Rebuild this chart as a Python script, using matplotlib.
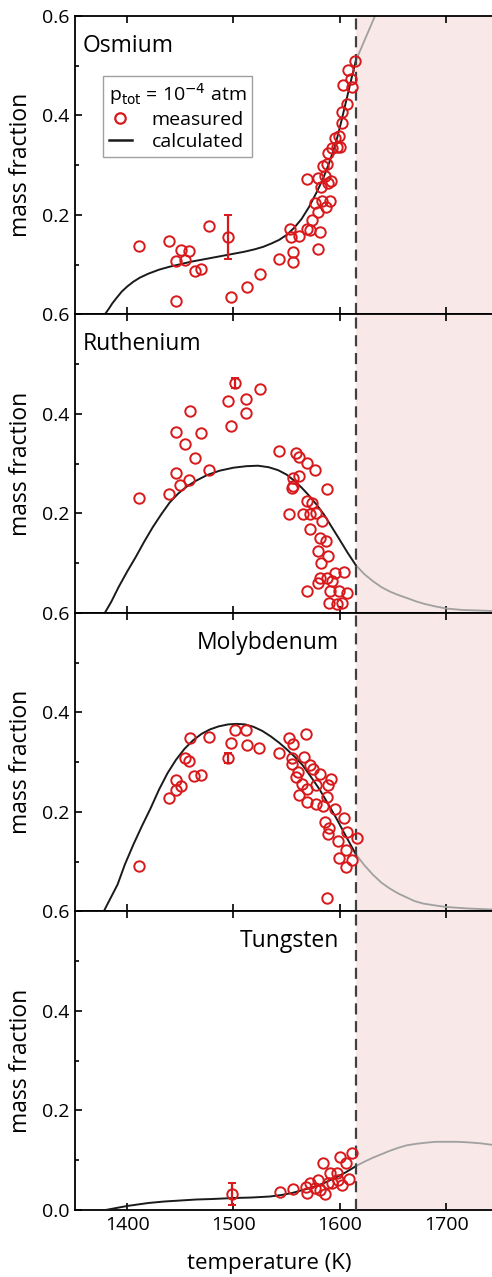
import matplotlib
matplotlib.use("Agg")
import matplotlib.pyplot as plt
from matplotlib.lines import Line2D
from matplotlib.ticker import MultipleLocator

plt.rcParams['font.family'] = ['Open Sans', 'DejaVu Sans']

# ---- data ----
t_melt = 1615

os_T = [1411, 1439, 1451, 1458, 1446, 1454, 1464, 1469, 1477, 1446, 1498, 1513, 1525,
        1543, 1556, 1556, 1579, 1553, 1554, 1562, 1569, 1572, 1581, 1574, 1579, 1587,
        1591, 1577, 1583, 1569, 1579, 1589, 1592, 1582, 1586, 1584, 1588, 1589, 1593,
        1597, 1600, 1595, 1599, 1602, 1602, 1607, 1603, 1611, 1608, 1610, 1614]
os_w = [0.137, 0.147, 0.129, 0.127, 0.107, 0.110, 0.088, 0.092, 0.177, 0.028, 0.036, 0.056, 0.082,
        0.112, 0.105, 0.125, 0.131, 0.171, 0.155, 0.157, 0.172, 0.169, 0.165, 0.189, 0.205, 0.217,
        0.229, 0.225, 0.229, 0.273, 0.275, 0.265, 0.269, 0.257, 0.279, 0.298, 0.303, 0.324, 0.334,
        0.336, 0.336, 0.354, 0.358, 0.384, 0.406, 0.424, 0.462, 0.458, 0.492, 0.474, 0.509]
os_err = (1495, 0.155, 0.044)
os_calc_T = [1379, 1383, 1386, 1390, 1395, 1400, 1406, 1412, 1420, 1430, 1440, 1450, 1460,
             1470, 1480, 1490, 1500, 1510, 1520, 1528, 1536, 1543, 1550, 1557, 1564, 1571,
             1578, 1584, 1590, 1596, 1601, 1606, 1611, 1615]
os_calc_w = [0.0, 0.012, 0.022, 0.033, 0.046, 0.056, 0.066, 0.074, 0.082, 0.090, 0.096, 0.101, 0.106,
             0.110, 0.114, 0.118, 0.122, 0.126, 0.131, 0.136, 0.143, 0.150, 0.160, 0.174, 0.192, 0.216,
             0.245, 0.272, 0.305, 0.343, 0.385, 0.430, 0.475, 0.510]
os_ext_T = [1615, 1620, 1625, 1630, 1635, 1645]
os_ext_w = [0.510, 0.535, 0.560, 0.585, 0.610, 0.670]

ru_T = [1411, 1439, 1450, 1458, 1446, 1477, 1464, 1454, 1446, 1469, 1459, 1495, 1498,
        1512, 1512, 1525, 1543, 1559, 1562, 1569, 1577, 1556, 1562, 1555, 1556, 1588,
        1552, 1565, 1572, 1569, 1574, 1578, 1583, 1572, 1581, 1587, 1579, 1589, 1582,
        1581, 1588, 1595, 1604, 1593, 1569, 1591, 1599, 1607, 1590, 1597, 1602, 1579]
ru_w = [0.231, 0.239, 0.257, 0.267, 0.281, 0.287, 0.312, 0.340, 0.364, 0.362, 0.406, 0.426, 0.376,
        0.430, 0.402, 0.450, 0.326, 0.322, 0.314, 0.302, 0.287, 0.271, 0.275, 0.251, 0.255, 0.249,
        0.199, 0.199, 0.199, 0.225, 0.221, 0.201, 0.185, 0.169, 0.151, 0.145, 0.125, 0.115, 0.101,
        0.070, 0.070, 0.080, 0.082, 0.064, 0.044, 0.044, 0.044, 0.040, 0.020, 0.018, 0.020, 0.060]
ru_err = (1501, 0.462, 0.010)
ru_calc_T = [1379, 1385, 1392, 1400, 1408, 1416, 1424, 1432, 1440, 1448, 1456, 1465, 1475,
             1487, 1500, 1512, 1523, 1533, 1542, 1550, 1557, 1564, 1571, 1578, 1585, 1592,
             1599, 1607, 1615]
ru_calc_w = [0.0, 0.022, 0.052, 0.083, 0.112, 0.143, 0.172, 0.198, 0.222, 0.240, 0.254, 0.266, 0.277,
             0.286, 0.292, 0.295, 0.296, 0.293, 0.287, 0.278, 0.266, 0.252, 0.236, 0.218, 0.198, 0.174,
             0.150, 0.122, 0.096]
ru_ext_T = [1615, 1623, 1631, 1639, 1647, 1655, 1663, 1672, 1680, 1690, 1700, 1715, 1730, 1743]
ru_ext_w = [0.096, 0.078, 0.064, 0.052, 0.043, 0.036, 0.030, 0.023, 0.018, 0.013, 0.009, 0.006,
            0.005, 0.004]

mo_T = [1411, 1439, 1446, 1446, 1451, 1463, 1469, 1454, 1458, 1459, 1477, 1498, 1501,
        1512, 1513, 1524, 1543, 1552, 1568, 1556, 1555, 1555, 1566, 1561, 1559, 1572,
        1575, 1581, 1592, 1564, 1569, 1578, 1589, 1562, 1569, 1578, 1588, 1584, 1595,
        1586, 1604, 1589, 1607, 1616, 1598, 1606, 1599, 1611, 1606, 1588, 1590]
mo_w = [0.092, 0.229, 0.245, 0.265, 0.253, 0.273, 0.275, 0.308, 0.302, 0.348, 0.350, 0.338, 0.364,
        0.364, 0.334, 0.328, 0.318, 0.348, 0.356, 0.336, 0.308, 0.296, 0.310, 0.281, 0.271, 0.295,
        0.287, 0.277, 0.267, 0.257, 0.247, 0.255, 0.255, 0.235, 0.221, 0.217, 0.231, 0.211, 0.205,
        0.179, 0.187, 0.155, 0.159, 0.147, 0.141, 0.123, 0.107, 0.103, 0.090, 0.028, 0.167]
mo_err = (1495, 0.308, 0.010)
mo_calc_T = [1378, 1384, 1391, 1398, 1406, 1414, 1422, 1430, 1438, 1446, 1454, 1462, 1470,
             1478, 1486, 1495, 1503, 1511, 1519, 1527, 1535, 1543, 1550, 1558, 1565, 1573,
             1581, 1589, 1597, 1606, 1615]
mo_calc_w = [0.0, 0.025, 0.054, 0.095, 0.135, 0.172, 0.207, 0.245, 0.278, 0.305, 0.327, 0.344, 0.357,
             0.366, 0.372, 0.376, 0.377, 0.376, 0.371, 0.363, 0.352, 0.339, 0.326, 0.310, 0.294, 0.270,
             0.245, 0.216, 0.186, 0.150, 0.115]
mo_ext_T = [1615, 1623, 1631, 1639, 1647, 1655, 1663, 1670, 1678, 1690, 1700, 1720, 1743]
mo_ext_w = [0.115, 0.093, 0.074, 0.058, 0.046, 0.036, 0.028, 0.021, 0.016, 0.012, 0.009, 0.006, 0.004]

w_T = [1544, 1556, 1568, 1569, 1572, 1579, 1581, 1586, 1577, 1584, 1591, 1589, 1597,
       1598, 1600, 1602, 1606, 1611, 1609, 1593]
w_w = [0.036, 0.042, 0.046, 0.034, 0.054, 0.060, 0.040, 0.032, 0.044, 0.094, 0.074, 0.054, 0.074,
       0.060, 0.107, 0.050, 0.094, 0.115, 0.062, 0.054]
w_err = (1499, 0.032, 0.023)
w_calc_T = [1380, 1390, 1400, 1410, 1420, 1435, 1450, 1465, 1480, 1500, 1517, 1534, 1545,
            1555, 1565, 1575, 1585, 1595, 1605, 1615]
w_calc_w = [0.0, 0.004, 0.008, 0.011, 0.014, 0.017, 0.019, 0.021, 0.022, 0.024, 0.025, 0.027, 0.030,
            0.034, 0.040, 0.046, 0.054, 0.064, 0.075, 0.088]
w_ext_T = [1615, 1623, 1631, 1639, 1647, 1655, 1663, 1672, 1680, 1690, 1700, 1710, 1720, 1732, 1743]
w_ext_w = [0.088, 0.097, 0.105, 0.112, 0.119, 0.125, 0.130, 0.133, 0.135, 0.137, 0.137, 0.137,
           0.136, 0.134, 0.131]

panels = [
    ("Osmium", os_T, os_w, os_err, os_calc_T, os_calc_w, os_ext_T, os_ext_w, "left"),
    ("Ruthenium", ru_T, ru_w, ru_err, ru_calc_T, ru_calc_w, ru_ext_T, ru_ext_w, "left"),
    ("Molybdenum", mo_T, mo_w, mo_err, mo_calc_T, mo_calc_w, mo_ext_T, mo_ext_w, "right"),
    ("Tungsten", w_T, w_w, w_err, w_calc_T, w_calc_w, w_ext_T, w_ext_w, "right"),
]

red = '#d8191c'
fig = plt.figure(figsize=(4.92, 12.77), dpi=100)
left, bottom, width, h = 0.1524, 0.0525, 0.8476, 0.23375

for i, (name, T, w, err, cT, cw, eT, ew, side) in enumerate(panels):
    ax = fig.add_axes([left, bottom + (3 - i) * h, width, h])
    ax.axvspan(t_melt, 1760, color='#f8e8e8', lw=0, zorder=0)
    ax.plot(eT, ew, color='#a0a0a0', lw=1.3, zorder=2)
    ax.plot(cT, cw, color='#1a1a1a', lw=1.4, zorder=3)
    ax.axvline(t_melt, color='#404040', lw=1.6, dashes=(5, 3), zorder=4)
    ax.plot(T, w, 'o', mfc='none', mec=red, ms=7.5, mew=1.4, zorder=5)
    ax.errorbar([err[0]], [err[1]], yerr=[err[2]], fmt='o', mfc='none', mec=red,
                ecolor=red, ms=7.5, mew=1.4, elinewidth=1.6, capsize=3, capthick=1.5, zorder=6)

    ax.set_xlim(1351, 1743)
    ax.set_ylim(0, 0.6)
    ax.set_xticks([1400, 1500, 1600, 1700])
    ax.set_yticks([0, 0.2, 0.4, 0.6])
    ax.yaxis.set_minor_locator(MultipleLocator(0.1))
    if i < 3:
        ax.set_yticklabels(['', '0.2', '0.4', '0.6'])
        ax.tick_params(axis='x', labelbottom=False)
    else:
        ax.set_yticklabels(['0.0', '0.2', '0.4', '0.6'])
        ax.set_xlabel('temperature (K)', fontsize=16)
        ax.xaxis.set_label_coords(0.465, -0.145)
    ax.tick_params(which='both', direction='in', top=True, right=False,
                   labelsize=14, width=1.2, pad=4)
    ax.tick_params(which='major', length=5)
    ax.tick_params(which='minor', length=3)
    ax.spines['right'].set_visible(False)
    for s in ['left', 'top', 'bottom']:
        ax.spines[s].set_linewidth(1.3)
    ax.set_ylabel('mass fraction', fontsize=16.5)
    ax.yaxis.set_label_coords(-0.1, 0.5)

    if side == 'left':
        ax.text(0.019, 0.9, name, transform=ax.transAxes, fontsize=16.5,
                ha='left', va='center')
    else:
        ax.text(0.634, 0.9, name, transform=ax.transAxes, fontsize=16.5,
                ha='right', va='center')

    if i == 0:
        handles = [Line2D([], [], ls='none', marker='o', mfc='none', mec=red, ms=7.5, mew=1.6),
                   Line2D([], [], color='#1a1a1a', lw=1.8)]
        leg = ax.legend(handles, ['measured', 'calculated'],
                        title=r'p$_{\rm tot}$ = 10$^{-4}$ atm', title_fontsize=14,
                        fontsize=14, loc='upper left', bbox_to_anchor=(0.067, 0.80),
                        frameon=True, fancybox=False, edgecolor='#888888',
                        handlelength=1.2, handletextpad=1.0, borderpad=0.3,
                        labelspacing=0.2, borderaxespad=0)
        leg._legend_box.align = 'left'
        leg.get_frame().set_linewidth(1.0)

fig.savefig('out.png', dpi=100)
